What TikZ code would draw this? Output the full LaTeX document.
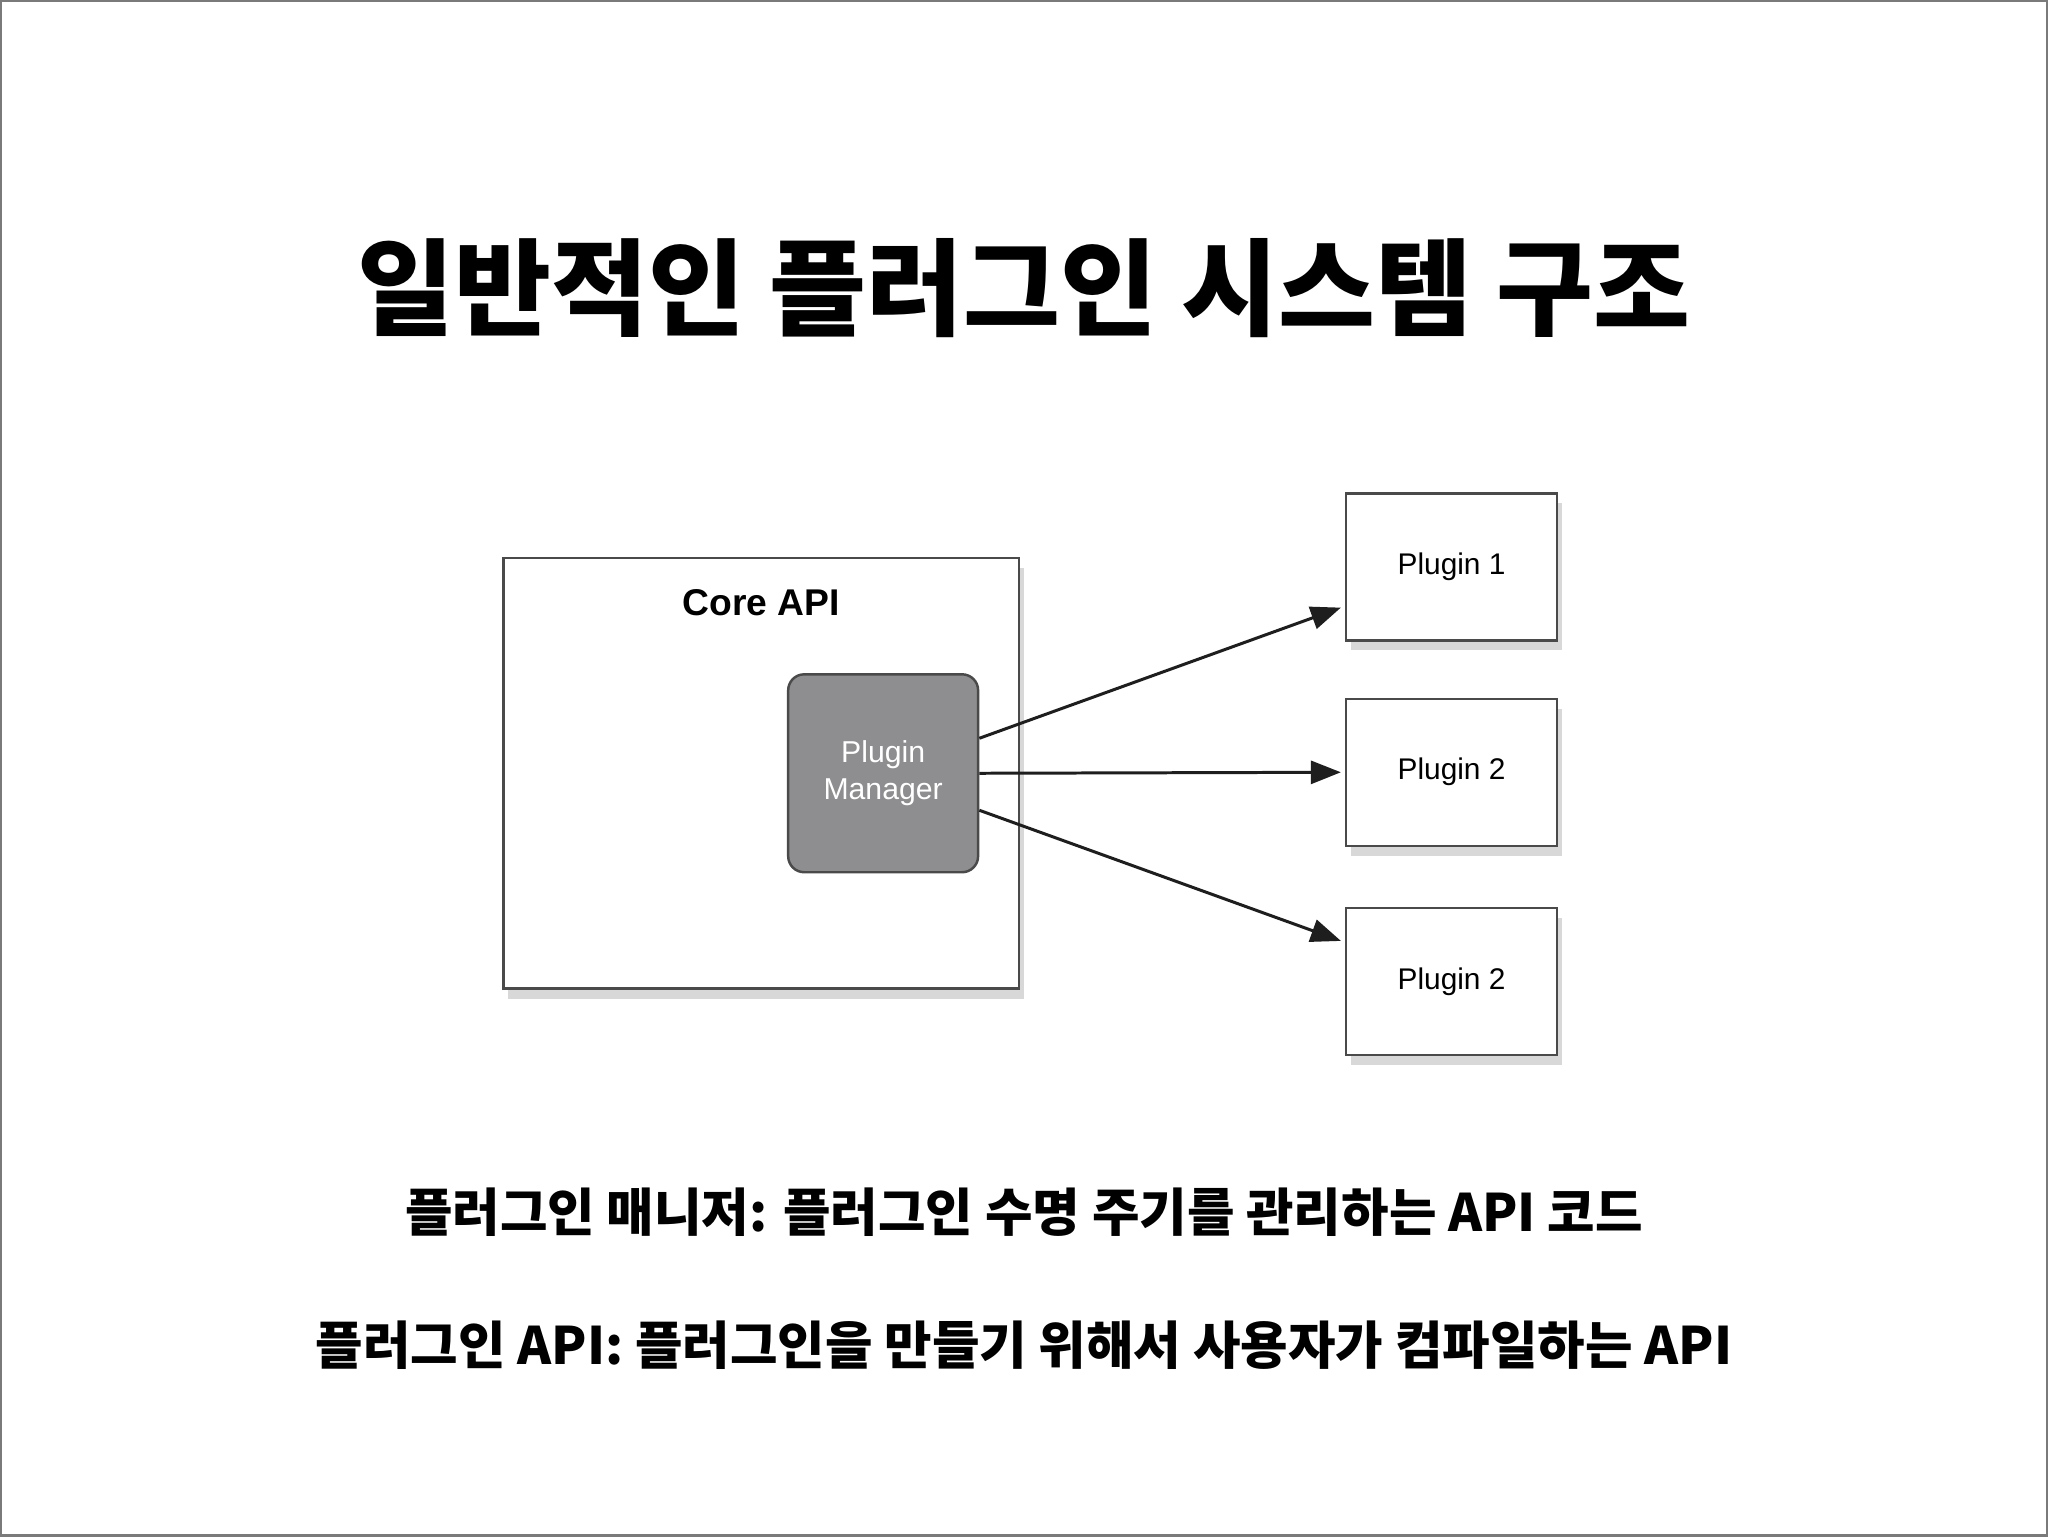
\documentclass[tikz,border=0pt]{standalone}
\usepackage{fontspec}
\setmainfont{Liberation Sans}
\newfontfamily\krfont{Noto Sans CJK KR}
\usepackage{xcolor}
\definecolor{clFrame}{HTML}{7A7A7A}
\definecolor{clEdge}{HTML}{4A4A4A}
\definecolor{clManager}{HTML}{8E8E90}
\definecolor{clArrow}{HTML}{1E1E1E}
\usetikzlibrary{arrows.meta,positioning,calc,shadows}
\tikzset{
  box/.style={rectangle, draw=clEdge, line width=0.7pt, fill=white,
              drop shadow={shadow xshift=0.5mm, shadow yshift=-1.0mm, opacity=0.25, fill=black!60}},
  corebox/.style={box, minimum width=5.16cm, minimum height=4.31cm},
  pluginbox/.style={box, minimum width=2.11cm, minimum height=1.47cm,
                    font=\fontsize{8.5}{10}\selectfont},
  managerbox/.style={rectangle, rounded corners=0.16cm, draw=clEdge, line width=0.7pt,
                     fill=clManager, text=white, align=center, minimum width=1.9cm,
                     minimum height=1.98cm, font=\fontsize{8.6}{10.4}\selectfont},
  link/.style={-{Triangle[length=3mm, width=2.3mm]}, line width=0.85pt, draw=clArrow},
  titletext/.style={font=\krfont\bfseries\fontsize{30}{36}\selectfont},
  notetext/.style={font=\krfont\bfseries\fontsize{14.7}{18}\selectfont},
}
\begin{document}
\begin{tikzpicture}[x=0.01cm, y=-0.01cm, node distance=0.6cm]
  % page frame
  \draw[clFrame, line width=0.6pt, fill=white] (0,0) rectangle (2048,1536);
  \useasboundingbox (0,0) rectangle (2048,1536);
  \node[titletext] (title) at (1024,287) {일반적인 플러그인 시스템 구조};
  % core side
  \node[corebox] (core) at (761,773) {};
  \node[font=\bfseries\fontsize{10.6}{12}\selectfont] (corelabel) at (761,602) {Core API};
  \node[managerbox] (manager) at (883,773) {Plugin\\Manager};
  % plugins
  \node[pluginbox] (plugB) at (1452,772) {Plugin 2};
  \node[pluginbox, above=0.56cm of plugB] (plugA) {Plugin 1};
  \node[pluginbox, below=of plugB] (plugC) {Plugin 2};
  \draw[link] ([yshift=0.35cm]manager.east) -- ($(plugA.south west)+(-4,-34)$);
  \draw[link] (manager.east) -- ([xshift=-0.04cm]plugB.west);
  \draw[link] ([yshift=-0.37cm]manager.east) -- ($(plugC.north west)+(-4,34)$);
  % notes
  \node[notetext] (noteA) at (1024,1212) {플러그인 매니저: 플러그인 수명 주기를 관리하는 API 코드};
  \node[notetext] (noteB) at (1024,1345) {플러그인 API: 플러그인을 만들기 위해서 사용자가 컴파일하는 API};
\end{tikzpicture}
\end{document}
